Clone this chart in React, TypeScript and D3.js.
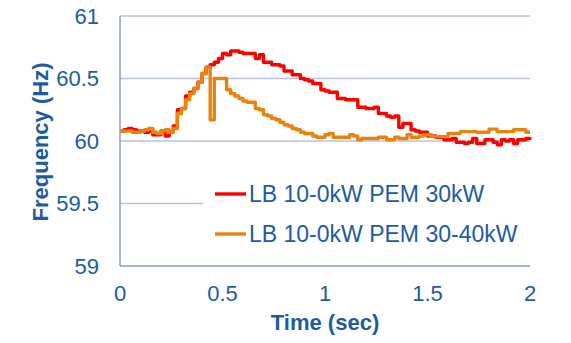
import React from "react";
import * as d3 from "d3";

// Sample times (seconds), 20 ms apart
const timeSec = [
  0, 0.02, 0.04, 0.06, 0.08, 0.1, 0.12, 0.14, 0.16, 0.18,
  0.2, 0.22, 0.24, 0.26, 0.28, 0.3, 0.32, 0.34, 0.36, 0.38,
  0.4, 0.42, 0.44, 0.46, 0.48, 0.5, 0.52, 0.54, 0.56, 0.58,
  0.6, 0.62, 0.64, 0.66, 0.68, 0.7, 0.72, 0.74, 0.76, 0.78,
  0.8, 0.82, 0.84, 0.86, 0.88, 0.9, 0.92, 0.94, 0.96, 0.98,
  1.0, 1.02, 1.04, 1.06, 1.08, 1.1, 1.12, 1.14, 1.16, 1.18,
  1.2, 1.22, 1.24, 1.26, 1.28, 1.3, 1.32, 1.34, 1.36, 1.38,
  1.4, 1.42, 1.44, 1.46, 1.48, 1.5, 1.52, 1.54, 1.56, 1.58,
  1.6, 1.62, 1.64, 1.66, 1.68, 1.7, 1.72, 1.74, 1.76, 1.78,
  1.8, 1.82, 1.84, 1.86, 1.88, 1.9, 1.92, 1.94, 1.96, 1.98,
  2.0,
];

// LB 10-0kW PEM 30kW
const freqPem30 = [
  60.08, 60.09, 60.1, 60.09, 60.08, 60.08, 60.07, 60.08, 60.05, 60.05,
  60.08, 60.04, 60.07, 60.12, 60.25, 60.26, 60.36, 60.39, 60.42, 60.47,
  60.54, 60.59, 60.61, 60.63, 60.66, 60.7, 60.69, 60.72, 60.72, 60.71,
  60.7, 60.7, 60.7, 60.66, 60.69, 60.63, 60.63, 60.61, 60.61, 60.6,
  60.56, 60.56, 60.53, 60.53, 60.5, 60.49, 60.48, 60.46, 60.46, 60.41,
  60.4, 60.39, 60.39, 60.34, 60.34, 60.33, 60.33, 60.33, 60.27, 60.27,
  60.26, 60.26, 60.27, 60.22, 60.22, 60.2, 60.19, 60.2, 60.11, 60.14,
  60.14, 60.09, 60.08, 60.07, 60.07, 60.04, 60.04, 60.03, 60.03, 60.01,
  60.01, 60.02, 59.99, 59.99, 59.98, 59.99, 60.02, 59.98, 59.98, 60.01,
  60.01, 59.99, 59.97, 60.01, 60.0, 60.01, 59.98, 60.01, 60.01, 60.02,
  60.03,
];

// LB 10-0kW PEM 30-40kW
const freqPem3040 = [
  60.08, 60.08, 60.08, 60.07, 60.07, 60.08, 60.09, 60.1, 60.07, 60.06,
  60.08, 60.09, 60.07, 60.1, 60.22, 60.26, 60.33, 60.38, 60.42, 60.47,
  60.54, 60.59, 60.17, 60.5, 60.5, 60.5, 60.41, 60.38, 60.36, 60.34,
  60.32, 60.31, 60.31, 60.26, 60.25, 60.21, 60.2, 60.18, 60.17, 60.15,
  60.13, 60.12, 60.1, 60.09, 60.07, 60.06, 60.06, 60.04, 60.03, 60.03,
  60.05, 60.06, 60.03, 60.03, 60.03, 60.03, 60.05, 60.04, 60.01, 60.02,
  60.02, 60.02, 60.02, 60.03, 60.03, 60.01, 60.01, 60.03, 60.02, 60.02,
  60.05, 60.03, 60.03, 60.04, 60.05, 60.05, 60.035, 60.035, 60.035, 60.035,
  60.06, 60.06, 60.06, 60.075, 60.075, 60.075, 60.075, 60.07, 60.07, 60.07,
  60.095, 60.095, 60.075, 60.075, 60.075, 60.075, 60.09, 60.09, 60.09, 60.07,
  60.07,
];

const xTicks = [0, 0.5, 1, 1.5, 2];
const xTickLabels = ["0", "0.5", "1", "1.5", "2"];
const yTicks = [59, 59.5, 60, 60.5, 61];
const yTickLabels = ["59", "59.5", "60", "60.5", "61"];

const seriesNames = ["LB 10-0kW PEM 30kW", "LB 10-0kW PEM 30-40kW"];
const seriesColors = ["#ff0000", "#e8830e"];

const W = 571;
const H = 343;
const plot = { left: 120, right: 530, top: 16, bottom: 266 };
const textColor = "#1d5ba3";
const axisColor = "#8d9bc5";
const gridColor = "#b8c2dc";
const font = "'Liberation Sans', Arial, sans-serif";

export default function App() {
  const x = d3.scaleLinear().domain([0, 2]).range([plot.left, plot.right]);
  const y = d3.scaleLinear().domain([59, 61]).range([plot.bottom, plot.top]);

  const line = d3
    .line<number>()
    .x((_, i) => x(timeSec[i]))
    .y((d) => y(d))
    .curve(d3.curveStepAfter);

  const series = [freqPem30, freqPem3040];

  return (
    <svg
      width={W}
      height={H}
      style={{ position: "absolute", left: 0, top: 0, background: "#fff" }}
      fontFamily={font}
    >
      {/* horizontal gridlines */}
      {yTicks.slice(1).map((t) => (
        <line
          key={t}
          x1={plot.left}
          x2={plot.right}
          y1={y(t)}
          y2={y(t)}
          stroke={gridColor}
          strokeWidth={1.5}
        />
      ))}

      {/* frequency traces */}
      {series.map((s, k) => (
        <path
          key={k}
          d={line(s) ?? ""}
          fill="none"
          stroke={seriesColors[k]}
          strokeWidth={3.4}
          strokeLinejoin="round"
        />
      ))}

      {/* axes */}
      <line x1={plot.left} x2={plot.left} y1={plot.top} y2={plot.bottom} stroke={axisColor} strokeWidth={1.5} />
      <line x1={plot.left} x2={plot.right} y1={plot.bottom} y2={plot.bottom} stroke={axisColor} strokeWidth={1.5} />

      {/* legend */}
      <rect x={203} y={176} width={330} height={76} fill="#fff" />
      {seriesNames.map((name, k) => (
        <g key={name} transform={`translate(0, ${194 + k * 40})`}>
          <line x1={215} x2={246} y1={0} y2={0} stroke={seriesColors[k]} strokeWidth={3.4} />
          <text x={249} y={0} dy="0.36em" fontSize={23} fill={textColor}>
            {name}
          </text>
        </g>
      ))}

      {/* y tick labels */}
      {yTicks.map((t, i) => (
        <text key={t} x={99} y={y(t)} dy="0.36em" textAnchor="end" fontSize={22} fill={textColor}>
          {yTickLabels[i]}
        </text>
      ))}

      {/* x tick labels */}
      {xTicks.map((t, i) => (
        <text key={t} x={x(t)} y={301} textAnchor="middle" fontSize={22} fill={textColor}>
          {xTickLabels[i]}
        </text>
      ))}

      {/* axis titles */}
      <text x={325} y={330} textAnchor="middle" fontSize={22} fontWeight="bold" fill={textColor}>
        Time (sec)
      </text>
      <text
        transform={`translate(48, 142) rotate(-90)`}
        textAnchor="middle"
        fontSize={22}
        fontWeight="bold"
        fill={textColor}
      >
        Frequency (Hz)
      </text>
    </svg>
  );
}
